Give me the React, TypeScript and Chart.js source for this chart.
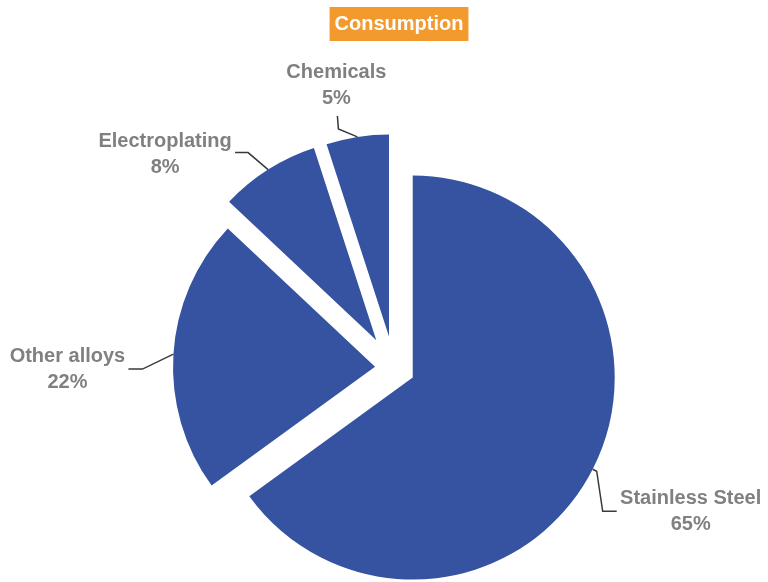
import React, { useEffect, useRef } from "react";
import { Chart, registerables } from "chart.js";

Chart.register(...registerables);

const TITLE = "Consumption";
const CATEGORIES = ["Stainless Steel", "Other alloys", "Electroplating", "Chemicals"];
const SHARES = [65, 22, 8, 5];
const SHARE_LABELS = ["65%", "22%", "8%", "5%"];

// styling / layout (not data)
const SLICE_COLOR = "#3553A1";
const EXPLODE_PX = [21, 19, 33, 32];
const LABEL_COLOR = "#808080";
const LEADER_COLOR = "#3a3a3a";
// leader path (relative to slice's outer mid-arc point) and text centre (relative to same point)
const LABEL_LAYOUT = [
  { path: [[4, 2], [10, 42], [24, 42]], text: [98, 29] },
  { path: [[-31, 15], [-45, 15]], text: [-106, 2] },
  { path: [[-20, -17], [-33, -17]], text: [-103, -28] },
  { path: [[-19, -8], [-20, -21]], text: [-21, -64] },
];

const explodePlugin = {
  id: "explode",
  beforeDatasetDraw(chart: any, args: any) {
    const ctx = chart.ctx;
    const meta = args.meta;
    meta.data.forEach((arc: any, i: number) => {
      const h = (arc.startAngle + arc.endAngle) / 2;
      const d = EXPLODE_PX[i] || 0;
      ctx.save();
      ctx.translate(Math.cos(h) * d, Math.sin(h) * d);
      arc.draw(ctx, chart.chartArea);
      ctx.restore();
    });
    return false;
  },
  afterDraw(chart: any) {
    const ctx = chart.ctx;
    // Title box
    ctx.save();
    ctx.font = "bold 20px 'Liberation Sans', Arial, sans-serif";
    const tw = ctx.measureText(TITLE).width;
    const cx = 399;
    ctx.fillStyle = "#F29A2E";
    ctx.fillRect(cx - tw / 2 - 5, 7, tw + 10, 34);
    ctx.fillStyle = "#ffffff";
    ctx.textAlign = "center";
    ctx.textBaseline = "middle";
    ctx.fillText(TITLE, cx, 24);
    ctx.restore();

    const meta = chart.getDatasetMeta(0);
    meta.data.forEach((arc: any, i: number) => {
      const { x, y, startAngle, endAngle, outerRadius } = arc;
      const h = (startAngle + endAngle) / 2;
      const t = EXPLODE_PX[i] || 0;
      const px = x + Math.cos(h) * (t + outerRadius);
      const py = y + Math.sin(h) * (t + outerRadius);
      const lay = LABEL_LAYOUT[i];
      ctx.save();
      ctx.strokeStyle = LEADER_COLOR;
      ctx.lineWidth = 1.5;
      ctx.beginPath();
      ctx.moveTo(px, py);
      lay.path.forEach((p) => ctx.lineTo(px + p[0], py + p[1]));
      ctx.stroke();
      ctx.fillStyle = LABEL_COLOR;
      ctx.font = "bold 20px 'Liberation Sans', Arial, sans-serif";
      ctx.textAlign = "center";
      ctx.textBaseline = "middle";
      const tx = px + lay.text[0];
      const ty = py + lay.text[1];
      ctx.fillText(CATEGORIES[i], tx, ty);
      ctx.fillText(SHARE_LABELS[i], tx, ty + 26);
      ctx.restore();
    });
  },
};

export default function App() {
  const ref = useRef<HTMLCanvasElement | null>(null);
  useEffect(() => {
    if (!ref.current) return;
    const chart = new Chart(ref.current, {
      type: "pie",
      data: {
        labels: CATEGORIES,
        datasets: [
          {
            data: SHARES,
            backgroundColor: SLICE_COLOR,
            borderWidth: 0,
            clip: false,
          } as any,
        ],
      },
      options: {
        animation: false,
        responsive: false,
        devicePixelRatio: 1,
        radius: 202,
        layout: { padding: { left: 20, right: 0, top: 154, bottom: 0 } },
        plugins: {
          legend: { display: false },
          tooltip: { enabled: false },
          title: { display: false },
        },
      } as any,
      plugins: [explodePlugin],
    });
    return () => chart.destroy();
  }, []);
  return (
    <div style={{ position: "fixed", left: 0, top: 0, width: 768, height: 582, background: "#fff" }}>
      <canvas ref={ref} width={768} height={582} style={{ display: "block" }} />
    </div>
  );
}
